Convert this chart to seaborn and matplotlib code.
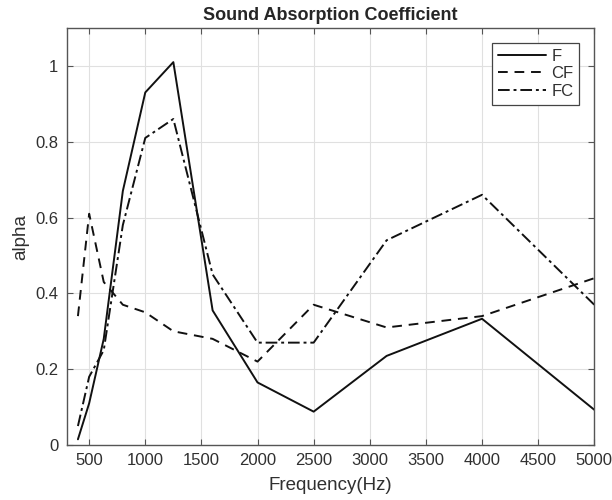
import matplotlib
matplotlib.use("Agg")
import matplotlib.pyplot as plt
import seaborn as sns
import pandas as pd

freq = [400, 500, 630, 800, 1000, 1250, 1600, 2000, 2500, 3150, 4000, 5000]
F = [0.015, 0.11, 0.28, 0.67, 0.93, 1.01, 0.355, 0.165, 0.088, 0.235, 0.333, 0.093]
CF = [0.34, 0.61, 0.43, 0.37, 0.35, 0.30, 0.28, 0.22, 0.37, 0.31, 0.34, 0.44]
FC = [0.05, 0.18, 0.25, 0.58, 0.81, 0.86, 0.45, 0.27, 0.27, 0.54, 0.66, 0.37]
series_names = ["F", "CF", "FC"]
xticks = [500, 1000, 1500, 2000, 2500, 3000, 3500, 4000, 4500, 5000]
yticks = [0, 0.2, 0.4, 0.6, 0.8, 1.0]
ytick_labels = ["0", "0.2", "0.4", "0.6", "0.8", "1"]

df = pd.DataFrame({
    "freq": freq * 3,
    "alpha": F + CF + FC,
    "series": [s for s in series_names for _ in freq],
})

sns.set_style("ticks")
plt.rcParams["font.family"] = ["Liberation Sans", "DejaVu Sans"]

fig = plt.figure(figsize=(6.12, 5.0), dpi=100)
ax = fig.add_axes([0.109, 0.11, 0.862, 0.834])

styles = {"F": "-", "CF": (0, (5, 3.5)), "FC": (0, (6, 2, 1.5, 2))}
for name in series_names:
    sub = df[df["series"] == name]
    sns.lineplot(data=sub, x="freq", y="alpha", ax=ax, color="#111111",
                 linewidth=1.4, linestyle=styles[name], label=name, legend=False)

ax.set_xlim(300, 5000)
ax.set_ylim(0, 1.1)
ax.set_xticks(xticks)
ax.set_yticks(yticks)
ax.set_yticklabels(ytick_labels)
ax.grid(True, color="#e0e0e0", linewidth=0.8)
ax.set_axisbelow(True)
for sp in ax.spines.values():
    sp.set_visible(True)
    sp.set_color("#555555")
    sp.set_linewidth(1.0)
ax.tick_params(direction="in", length=4, colors="#555555", labelcolor="#303030",
               labelsize=12, top=True, right=True, labeltop=False,
               labelright=False, pad=6)
ax.set_xlabel("Frequency(Hz)", fontsize=13.5, color="#303030", labelpad=6)
ax.set_ylabel("alpha", fontsize=13.5, color="#303030", labelpad=4)
ax.set_title("Sound Absorption Coefficient", fontsize=13, fontweight="bold", pad=6)

leg = ax.legend(loc="upper right", fontsize=12, frameon=True, fancybox=False,
                handlelength=2.9, borderaxespad=0.9, labelspacing=0.15,
                handletextpad=0.3, borderpad=0.35)
leg.get_frame().set_edgecolor("#444444")
leg.get_frame().set_linewidth(0.9)
leg.get_frame().set_alpha(1)
for t in leg.get_texts():
    t.set_color("#303030")

fig.savefig("out.png", dpi=100)
